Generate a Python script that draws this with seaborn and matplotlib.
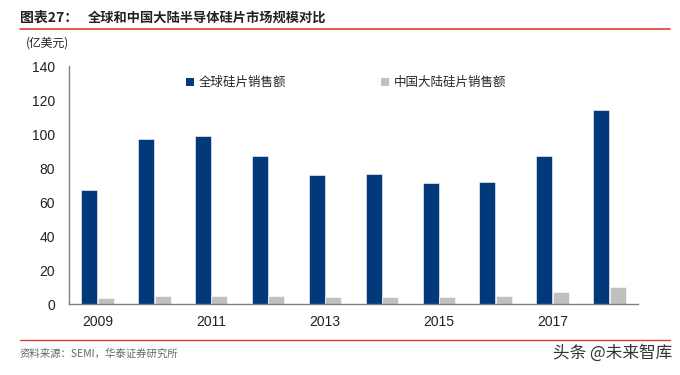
import numpy as np
import pandas as pd
import matplotlib.pyplot as plt
import seaborn as sns
from matplotlib.lines import Line2D
from matplotlib.patches import Patch

# Data (100 million USD)
years = ['2009', '2010', '2011', '2012', '2013', '2014', '2015', '2016', '2017', '2018']
global_sales = [67.2, 96.9, 98.7, 86.9, 75.7, 76.5, 71.2, 72.0, 87.3, 114.4]
china_sales = [3.5, 4.9, 5.0, 4.9, 4.1, 4.1, 4.3, 5.0, 7.1, 10.0]
series_names = ['全球硅片销售额', '中国大陆硅片销售额']
colors = ['#02397A', '#C0C0C0']

df = pd.DataFrame({
    'year': years * 2,
    'value': global_sales + china_sales,
    'series': [series_names[0]] * len(years) + [series_names[1]] * len(years),
})

sns.set_style('white')
plt.rcParams['font.family'] = ['Noto Sans CJK SC', 'DejaVu Sans']

fig = plt.figure(figsize=(6.8, 3.75), dpi=100)
ax = fig.add_axes([0.1015, 0.189, 0.8365, 0.635])

sns.barplot(data=df, x='year', y='value', hue='series', palette=colors,
            width=0.58, gap=0.03, ax=ax, legend=False, saturation=1,
            edgecolor='white', linewidth=0.4)

ax.set_ylim(0, 140)
ax.set_xlim(-0.5, len(years) - 0.5)
ax.set_yticks(np.arange(0, 141, 20))
ax.set_yticklabels([str(v) for v in range(0, 141, 20)],
                   fontfamily='Liberation Sans', fontsize=10, color='#222222')

# year labels every other category, ticks at category boundaries
ax.set_xticks(range(len(years)))
ax.set_xticklabels([y if i % 2 == 0 else '' for i, y in enumerate(years)],
                   fontfamily='Liberation Sans', fontsize=10, color='#222222')
ax.tick_params(axis='x', which='major', length=0, pad=8)
ax.set_xticks(np.arange(-0.5, len(years), 1), minor=True)
ax.tick_params(axis='x', which='minor', length=4, color='#808080', direction='out')
ax.tick_params(axis='y', length=4, color='#808080', direction='out', pad=6)
ax.set_xlabel('')
ax.set_ylabel('')

for side in ['top', 'right']:
    ax.spines[side].set_visible(False)
for side in ['left', 'bottom']:
    ax.spines[side].set_color('#808080')
    ax.spines[side].set_linewidth(1.0)

handles = [Patch(facecolor=c, edgecolor='none') for c in colors]
ax.legend(handles, series_names, loc='center left', bbox_to_anchor=(0.186, 0.93),
          ncol=2, frameon=False, handlelength=0.6, handleheight=0.6,
          handletextpad=0.4, columnspacing=7.6,
          prop={'family': ['Noto Sans CJK SC', 'DejaVu Sans'], 'size': 9})

# header and footer
fig.text(20 / 680, 1 - 18 / 375, '图表27：', fontsize=10, fontweight='bold',
         va='center', ha='left', color='#222222')
fig.text(88 / 680, 1 - 18 / 375, '全球和中国大陆半导体硅片市场规模对比', fontsize=9.5,
         fontweight='bold', va='center', ha='left', color='#222222')
fig.add_artist(Line2D([20 / 680, 670 / 680], [1 - 29 / 375, 1 - 29 / 375],
                      color='#E03C31', linewidth=1.2))
fig.text(26 / 680, 1 - 43 / 375, '(亿美元)', fontsize=8.5, va='center', ha='left',
         color='#222222')
fig.add_artist(Line2D([20 / 680, 670 / 680], [1 - 340 / 375, 1 - 340 / 375],
                      color='#E03C31', linewidth=1.0))
fig.text(20 / 680, 1 - 354 / 375, '资料来源：SEMI，华泰证券研究所', fontsize=7.5,
         va='center', ha='left', color='#666666')
fig.text(672 / 680, 1 - 353 / 375, '头条 @未来智库', fontsize=12, va='center',
         ha='right', color='#333333')

fig.savefig('out.png', dpi=100)
